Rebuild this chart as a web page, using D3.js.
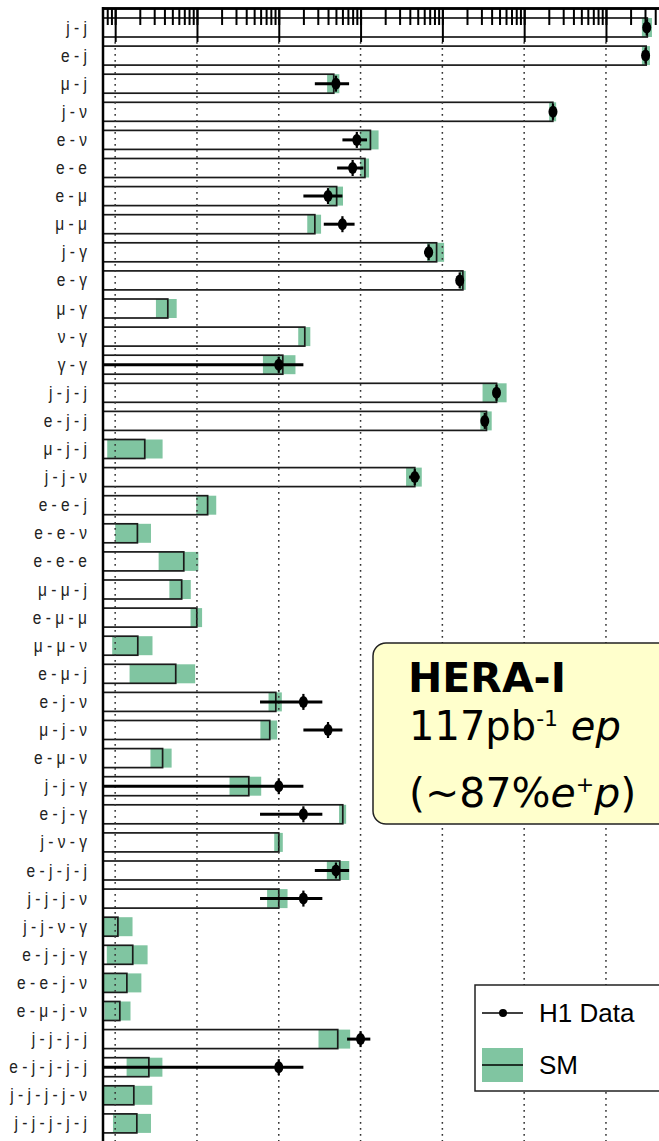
<!DOCTYPE html>
<html>
<head>
<meta charset="utf-8">
<script src="https://cdn.jsdelivr.net/npm/d3@7"></script>
<style>
  body { margin: 0; background: #fff; }
  svg { display: block; }
</style>
</head>
<body>
<div id="chart"></div>
<script>
// event classes, top to bottom
var channels = [
  "j - j", "e - j", "μ - j", "j - ν", "e - ν", "e - e", "e - μ", "μ - μ",
  "j - γ", "e - γ", "μ - γ", "ν - γ", "γ - γ",
  "j - j - j", "e - j - j", "μ - j - j", "j - j - ν", "e - e - j", "e - e - ν",
  "e - e - e", "μ - μ - j", "e - μ - μ", "μ - μ - ν", "e - μ - j", "e - j - ν",
  "μ - j - ν", "e - μ - ν", "j - j - γ", "e - j - γ", "j - ν - γ",
  "e - j - j - j", "j - j - j - ν", "j - j - ν - γ", "e - j - j - γ",
  "e - e - j - ν", "e - μ - j - ν", "j - j - j - j",
  "e - j - j - j - j", "j - j - j - j - ν", "j - j - j - j - j"
];

// SM expectation and its uncertainty
var smValues = [32000, 31000, 4.7, 2240, 13.2, 11.3, 5.1, 2.76, 85, 178, 0.044, 2.08, 1.12,
  460, 346, 0.023, 46, 0.135, 0.0187, 0.069, 0.065, 0.0995, 0.0189, 0.055, 0.92,
  0.776, 0.038, 0.43, 6.06, 1.0, 5.57, 1.0, 0.0108, 0.0164, 0.0139, 0.0114, 5.26,
  0.0258, 0.0169, 0.0184];
var smErrors = [4500, 3500, 0.8, 220, 3.4, 1.4, 1.0, 0.53, 20, 15, 0.0125, 0.35, 0.48,
  150, 55, 0.015, 10, 0.037, 0.0087, 0.035, 0.019, 0.016, 0.0097, 0.04, 0.17,
  0.18, 0.011, 0.18, 0.6, 0.12, 1.7, 0.28, 0.0055, 0.0085, 0.007, 0.004, 2.2,
  0.012, 0.0115, 0.009];

// H1 data (0 = no event observed)
var dataValues = [31500, 30500, 5, 2250, 9, 8, 4, 6, 68, 163, 0, 0, 1,
  459, 330, 0, 46, 0, 0, 0, 0, 0, 0, 0, 2,
  4, 0, 1, 2, 0, 5, 2, 0, 0, 0, 0, 10,
  1, 0, 0];
var dataErrors = [177, 175, 2.24, 47, 3, 2.83, 2, 2.45, 8.2, 12.8, 0, 0, 1,
  21.4, 18.2, 0, 6.8, 0, 0, 0, 0, 0, 0, 0, 1.41,
  2, 0, 1, 1.41, 0, 2.24, 1.41, 0, 0, 0, 0, 3.16,
  1, 0, 0];

var majorTicks = [0.01, 0.1, 1, 10, 100, 1000, 10000, 100000];

var rows = channels.map(function(c, i) {
  return { name: c, sm: smValues[i], smErr: smErrors[i], data: dataValues[i], dataErr: dataErrors[i] };
});

var width = 659, height = 1141;
var plotLeft = 103, plotTop = 8, decadePx = 81.8;
var xMin = 0.0071, xMax = 1e5;

var svg = d3.select("#chart").append("svg")
  .attr("width", width)
  .attr("height", height);

var x = d3.scaleLog()
  .domain([xMin, xMax])
  .range([plotLeft, plotLeft + decadePx * Math.log10(xMax / xMin)]);

var y = d3.scalePoint()
  .domain(channels)
  .range([27.5, 1123.4]);

var barH = 19;
var green = "#80c5a1";

svg.append("clipPath").attr("id", "plotclip")
  .append("rect").attr("x", plotLeft).attr("y", plotTop).attr("width", width).attr("height", height);

var plot = svg.append("g").attr("clip-path", "url(#plotclip)");

// SM uncertainty bands
plot.selectAll(".band")
  .data(rows)
  .enter().append("rect")
  .attr("class", "band")
  .attr("x", function(d) { return x(Math.max(d.sm - d.smErr, xMin)); })
  .attr("y", function(d) { return y(d.name) - barH / 2; })
  .attr("width", function(d) { return x(d.sm + d.smErr) - x(Math.max(d.sm - d.smErr, xMin)); })
  .attr("height", barH)
  .attr("fill", green);

// SM bars (outline only)
plot.selectAll(".bar")
  .data(rows)
  .enter().append("rect")
  .attr("class", "bar")
  .attr("x", x(xMin))
  .attr("y", function(d) { return y(d.name) - barH / 2; })
  .attr("width", function(d) { return x(d.sm) - x(xMin); })
  .attr("height", barH)
  .attr("fill", "none")
  .attr("stroke", "#1a1a1a")
  .attr("stroke-width", 1.7);

// dotted grid at decades
plot.selectAll(".grid")
  .data(majorTicks)
  .enter().append("line")
  .attr("x1", function(d) { return x(d); })
  .attr("x2", function(d) { return x(d); })
  .attr("y1", 42)
  .attr("y2", height)
  .attr("stroke", "#333")
  .attr("stroke-width", 1.5)
  .attr("stroke-dasharray", "1.8,4.2");

// data points with error bars
var pts = plot.selectAll(".pt")
  .data(rows.filter(function(d) { return d.data > 0; }))
  .enter().append("g")
  .attr("class", "pt");

pts.append("line")
  .attr("x1", function(d) { return x(Math.max(d.data - d.dataErr, xMin)); })
  .attr("x2", function(d) { return x(d.data + d.dataErr); })
  .attr("y1", function(d) { return y(d.name); })
  .attr("y2", function(d) { return y(d.name); })
  .attr("stroke", "#000")
  .attr("stroke-width", 3);

pts.append("line")
  .attr("x1", function(d) { return x(d.data); })
  .attr("x2", function(d) { return x(d.data); })
  .attr("y1", function(d) { return y(d.name) - 8; })
  .attr("y2", function(d) { return y(d.name) + 8; })
  .attr("stroke", "#000")
  .attr("stroke-width", 2.2);

pts.append("ellipse")
  .attr("cx", function(d) { return x(d.data); })
  .attr("cy", function(d) { return y(d.name); })
  .attr("rx", 4.5)
  .attr("ry", 6)
  .attr("fill", "#000");

// top axis: ticks pointing down into the plot
var allTicks = x.ticks().filter(function(t) { return t >= xMin; });
var minorAxis = d3.axisBottom(x).tickValues(allTicks).tickSize(17).tickSizeOuter(0).tickFormat("");
var majorAxis = d3.axisBottom(x).tickValues(majorTicks).tickSize(34).tickSizeOuter(0).tickFormat("");

var gMinor = svg.append("g").attr("transform", "translate(0," + plotTop + ")").call(minorAxis);
var gMajor = svg.append("g").attr("transform", "translate(0," + plotTop + ")").call(majorAxis);
[gMinor, gMajor].forEach(function(g) {
  g.selectAll(".tick line").attr("stroke", "#000").attr("stroke-width", 2);
  g.select(".domain").attr("stroke", "#000").attr("stroke-width", 2.5);
});

// left axis line
svg.append("line")
  .attr("x1", plotLeft).attr("x2", plotLeft)
  .attr("y1", plotTop - 1).attr("y2", height)
  .attr("stroke", "#000")
  .attr("stroke-width", 2.5);

// channel labels
svg.selectAll(".lab")
  .data(channels)
  .enter().append("text")
  .attr("transform", function(d) { return "translate(87," + (y(d) + 6) + ") scale(0.84,1)"; })
  .attr("text-anchor", "end")
  .style("font-family", "'Liberation Sans', Arial, sans-serif")
  .style("font-size", "18.5px")
  .attr("fill", "#222")
  .text(function(d) { return d; });

// HERA-I info box
svg.append("rect")
  .attr("x", 373).attr("y", 643)
  .attr("width", 320).attr("height", 181)
  .attr("rx", 13)
  .attr("fill", "#ffffcc")
  .attr("stroke", "#222")
  .attr("stroke-width", 1.5);

var boxFont = "'DejaVu Sans', sans-serif";
svg.append("text")
  .attr("x", 408).attr("y", 692)
  .style("font-family", boxFont).style("font-size", "41px").style("font-weight", "bold")
  .text("HERA-I");

var t2 = svg.append("text")
  .attr("x", 409).attr("y", 740)
  .style("font-family", boxFont).style("font-size", "40px");
t2.append("tspan").text("117pb");
t2.append("tspan").attr("dy", -14).style("font-size", "22px").text("-1");
t2.append("tspan").attr("dy", 14).text(" ");
t2.append("tspan").style("font-style", "italic").text("ep");

var t3 = svg.append("text")
  .attr("x", 409).attr("y", 807)
  .style("font-family", boxFont).style("font-size", "41px");
t3.append("tspan").text("(~87%");
t3.append("tspan").style("font-style", "italic").text("e");
t3.append("tspan").attr("dy", -15).style("font-size", "22px").text("+");
t3.append("tspan").attr("dy", 15).style("font-style", "italic").text("p");
t3.append("tspan").text(")");

// legend
var legend = svg.append("g");
legend.append("rect")
  .attr("x", 475).attr("y", 985)
  .attr("width", 220).attr("height", 106)
  .attr("fill", "#fff")
  .attr("stroke", "#222")
  .attr("stroke-width", 1.5);

legend.append("line")
  .attr("x1", 482).attr("x2", 523).attr("y1", 1013).attr("y2", 1013)
  .attr("stroke", "#000").attr("stroke-width", 1.5);
legend.append("circle")
  .attr("cx", 503).attr("cy", 1013).attr("r", 4)
  .attr("fill", "#000");
legend.append("text")
  .attr("x", 539).attr("y", 1022)
  .style("font-family", "'Liberation Sans', Arial, sans-serif").style("font-size", "26px")
  .text("H1 Data");

legend.append("rect")
  .attr("x", 482).attr("y", 1048).attr("width", 41).attr("height", 34)
  .attr("fill", green);
legend.append("line")
  .attr("x1", 482).attr("x2", 523).attr("y1", 1065).attr("y2", 1065)
  .attr("stroke", "#000").attr("stroke-width", 1.5);
legend.append("text")
  .attr("x", 539).attr("y", 1074)
  .style("font-family", "'Liberation Sans', Arial, sans-serif").style("font-size", "26px")
  .text("SM");
</script>
</body>
</html>
